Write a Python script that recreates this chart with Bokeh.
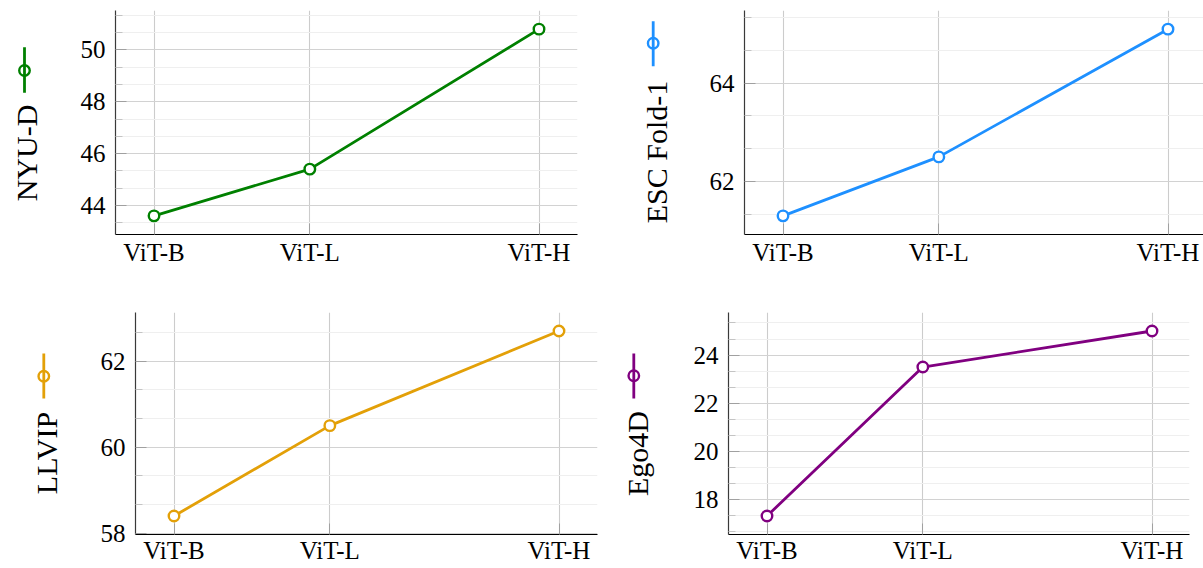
import math
from bokeh.plotting import figure
from bokeh.layouts import column, row
from bokeh.models import FixedTicker, Range1d
from bokeh.embed import file_html
from bokeh.resources import INLINE

# ---- data ----
models = ["ViT-B", "ViT-L", "ViT-H"]
params_m = [86, 307, 632]

nyud = [43.6, 45.4, 50.8]
esc = [61.3, 62.5, 65.1]
llvip = [58.4, 60.5, 62.7]
ego4d = [17.3, 23.5, 25.0]

names = ["NYU-D", "ESC Fold-1", "LLVIP", "Ego4D"]
colors = ["#008000", "#1E90FF", "#E3A008", "#800080"]

yticks_nyud = [44, 46, 48, 50]
yticks_esc = [62, 64]
yticks_llvip = [58, 60, 62]
yticks_ego4d = [18, 20, 22, 24]

FONT = "Liberation Serif"
FULL_FW = 462
DESC = 10   # offset between label box edge and baseline (px)


def blank(p):
    p.outline_line_color = None
    p.grid.visible = False
    p.background_fill_color = "white"
    p.border_fill_color = "white"


def make_panel(vals, color, yticks, w, h, bl, br, bt, bb, standoff):
    fw = w - bl - br
    xpad = 0.1 * (max(params_m) - min(params_m))
    x0 = min(params_m) - xpad
    x1 = x0 + (max(params_m) + xpad - x0) * fw / FULL_FW
    ypad = 0.1 * (max(vals) - min(vals))
    y0, y1 = min(vals) - ypad, max(vals) + ypad

    p = figure(width=w, height=h, x_range=Range1d(x0, x1), y_range=Range1d(y0, y1),
               output_backend="svg", toolbar_location=None, title=None,
               min_border_left=bl, min_border_right=br,
               min_border_top=bt, min_border_bottom=bb)
    p.outline_line_color = None
    p.background_fill_color = "white"
    p.border_fill_color = "white"

    step = yticks[1] - yticks[0]
    minor = []
    for i in range(-9, 3 * len(yticks) + 9):
        v = yticks[0] + i * step / 3.0
        if y0 <= v <= y1 and all(abs(v - t) > 1e-6 for t in yticks):
            minor.append(v)

    p.yaxis.ticker = FixedTicker(ticks=yticks, minor_ticks=minor)
    p.xaxis.ticker = FixedTicker(ticks=params_m)
    p.xaxis.major_label_overrides = {k: m for k, m in zip(params_m, models)}

    for ax in (p.xaxis[0], p.yaxis[0]):
        ax.major_label_text_font = FONT
        ax.major_label_text_font_size = "25px"
        ax.major_label_text_color = "black"
        ax.major_tick_in = 11
        ax.major_tick_out = 0
        ax.major_tick_line_color = "#a0a0a0"
        ax.minor_tick_in = 7
        ax.minor_tick_out = 0
        ax.minor_tick_line_color = "#c4c4c4"
        ax.axis_line_width = 1.2
    p.yaxis.axis_line_color = "#3a3a3a"
    p.xaxis.axis_line_color = "black"
    p.yaxis.major_label_standoff = 10
    p.xaxis.major_label_standoff = standoff

    p.xgrid.ticker = FixedTicker(ticks=params_m)
    p.xgrid.grid_line_color = "#cccccc"
    p.xgrid.grid_line_width = 1.1
    p.ygrid.grid_line_color = "#d2d2d2"
    p.ygrid.grid_line_width = 1.1
    p.ygrid.minor_grid_line_color = "#efefef"
    p.ygrid.minor_grid_line_width = 1.1

    p.line(params_m, vals, line_color=color, line_width=2.8)
    p.scatter(params_m, vals, marker="circle", size=10.5, line_color=color,
              line_width=2.4, fill_color="white")
    return p


def make_label(name, color, w, h, mh, baseline_x, text_cy, mx, ly0, ly1, cy):
    """Side column: legend marker (top) + rotated series label (axis label).
    All positions are pixels from the column's top-left corner."""
    # marker part (wrapped in its own row so its frame is not aligned to others)
    m = figure(width=w, height=mh, x_range=Range1d(0, w), y_range=Range1d(0, mh),
               x_axis_type=None, y_axis_type=None, output_backend="svg",
               toolbar_location=None, title=None, min_border_left=0,
               min_border_right=0, min_border_top=0, min_border_bottom=0)
    blank(m)
    m.segment([mx], [mh - ly0], [mx], [mh - ly1], line_color=color, line_width=2.8)
    m.scatter([mx], [mh - cy], marker="circle", size=10.5, line_color=color,
              line_width=2.4, fill_color=None)

    # text part: a 1px-wide frame at the right edge, label on its left axis
    th = h - mh
    fh = int(round(2 * (text_cy - mh)))
    t = figure(width=w, height=th, x_range=Range1d(0, 1), y_range=Range1d(0, 1),
               x_axis_type=None, output_backend="svg", toolbar_location=None,
               title=None, min_border_left=w - 1, min_border_right=0,
               min_border_top=0, min_border_bottom=th - fh)
    blank(t)
    ax = t.yaxis[0]
    ax.ticker = FixedTicker(ticks=[])
    ax.major_tick_out = 0
    ax.major_tick_in = 0
    ax.minor_tick_out = 0
    ax.minor_tick_in = 0
    ax.axis_line_color = None
    ax.axis_label = name
    ax.axis_label_text_font = FONT
    ax.axis_label_text_font_size = "30px"
    ax.axis_label_text_font_style = "normal"
    ax.axis_label_text_color = "black"
    ax.axis_label_standoff = int(round((w - 1) - baseline_x - DESC))
    return column(row(m), row(t))


H1, H2 = 290, 277

c1 = make_label(names[0], colors[0], 60, H1, 97, 32.3, 152.5, 24, 46.7, 92.3, 70)
f1 = make_panel(nyud, colors[0], yticks_nyud, 540, H1, 55, 23, 10, 54, 4)
c2 = make_label(names[1], colors[1], 100, H1, 70, 61.7, 151.3, 52.7, 20.7, 65.7, 42.7)
f2 = make_panel(esc, colors[1], yticks_esc, 503, H1, 44, 0, 8, 56, 4)

c3 = make_label(names[2], colors[2], 70, H2, 113, 51.7, 162.7, 43.3, 63, 108, 85.7)
f3 = make_panel(llvip, colors[2], yticks_llvip, 530, H2, 65, 3, 22, 33, 2)
c4 = make_label(names[3], colors[3], 90, H2, 113, 43.3, 162.9, 33.3, 63, 108, 85.3)
f4 = make_panel(ego4d, colors[3], yticks_ego4d, 513, H2, 38, 14, 22, 33, 2)

layout = column(row(c1, f1, c2, f2), row(c3, f3, c4, f4))
open("out.html", "w").write(file_html(layout, INLINE))
